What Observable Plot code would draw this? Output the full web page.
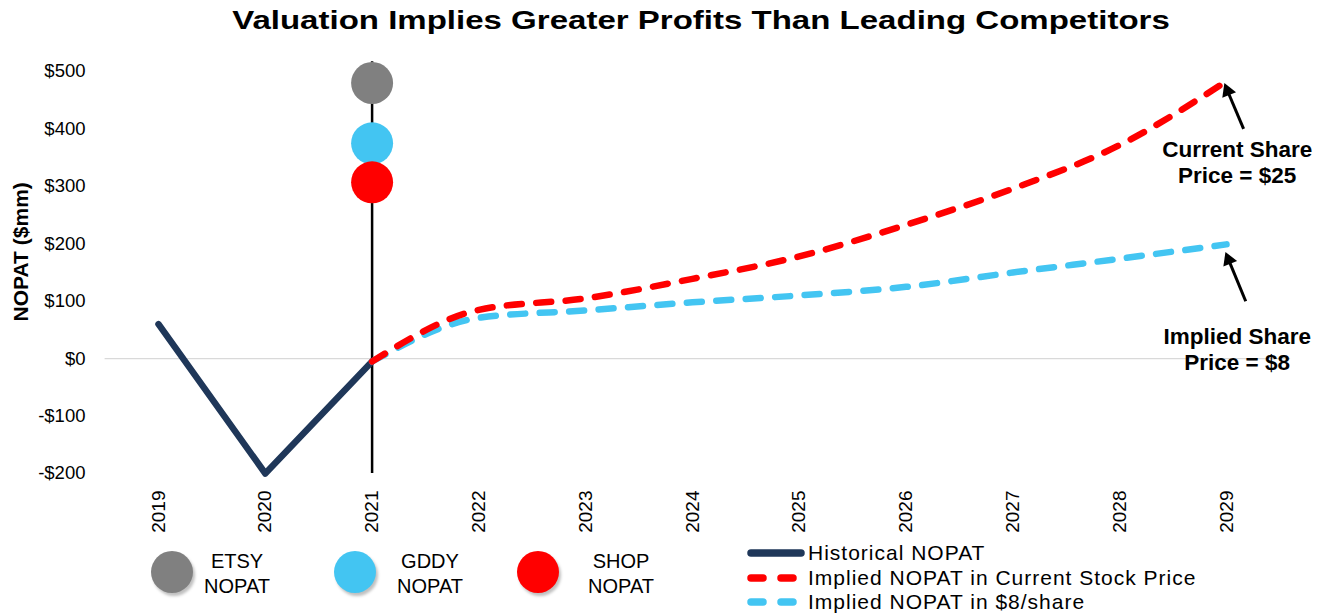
<!DOCTYPE html>
<html>
<head>
<meta charset="utf-8">
<script src="https://cdn.jsdelivr.net/npm/d3@7"></script>
<script src="https://cdn.jsdelivr.net/npm/@observablehq/plot@0.6"></script>
<style>
  html, body { margin: 0; padding: 0; background: #fff; }
  body { width: 1327px; height: 616px; position: relative; overflow: hidden; font-family: "Liberation Sans", Arial, sans-serif; }
  #title { position: absolute; left: 0; top: 5px; width: 1402px; text-align: center; font-weight: bold; font-size: 26px; line-height: 30px; color: #000; transform: scaleX(1.27); transform-origin: 701px 0; }
  #chart { position: absolute; left: 0; top: 48px; }
  .dotleg { position: absolute; width: 42px; height: 42px; border-radius: 50%; box-shadow: 2px 3px 3px rgba(0,0,0,0.25); }
  .dottxt { position: absolute; font-size: 20px; text-align: center; line-height: 25px; width: 120px; }
  .lineleg { position: absolute; font-size: 21px; letter-spacing: 1px; line-height: 22px; display: flex; align-items: center; white-space: nowrap; }
  .lineleg svg { margin-right: 1px; }
  circle.peer { filter: drop-shadow(2px 3px 2px rgba(0,0,0,0.28)); }
</style>
</head>
<body>
<div id="title">Valuation Implies Greater Profits Than Leading Competitors</div>
<div id="chart"></div>
<div id="legend"></div>
<script>
// ---- data ----
const years = [2019, 2020, 2021, 2022, 2023, 2024, 2025, 2026, 2027, 2028, 2029];
const historicalYears = [2019, 2020, 2021];
const historicalNopat = [60, -200, -5];
const projYears = [2021, 2022, 2023, 2024, 2025, 2026, 2027, 2028, 2029];
const impliedCurrent = [-5, 85, 105, 139, 178, 233, 296, 372, 483];
const impliedEight = [-5, 71, 84, 98, 110, 125, 150, 174, 199];
const peers = ["ETSY", "GDDY", "SHOP"];
const peerNopat = [480, 375, 307];
const peerColors = ["#808080", "#43C5F2", "#FF0000"];
const yTicks = [-200, -100, 0, 100, 200, 300, 400, 500];
const annotations = ["Current Share\nPrice = $25", "Implied Share\nPrice = $8"];
const annotationY = [343, 17];
const arrowFrom = [[2029.16, 400], [2029.18, 100]];
const arrowTo = [[2029.01, 466], [2029.02, 172]];

const hist = historicalYears.map((y, i) => ({year: y, v: historicalNopat[i]}));
const cur = projYears.map((y, i) => ({year: y, v: impliedCurrent[i]}));
const eight = projYears.map((y, i) => ({year: y, v: impliedEight[i]}));
const peerData = peers.map((p, i) => ({name: p, year: 2021, v: peerNopat[i], color: peerColors[i]}));
const annData = annotations.map((t, i) => ({t, y: annotationY[i]}));
const arrows = arrowFrom.map((a, i) => ({x1: a[0], y1: a[1], x2: arrowTo[i][0], y2: arrowTo[i][1]}));

const fmt = d => (d < 0 ? "-$" + Math.abs(d) : "$" + d);

const chart = Plot.plot({
  width: 1327,
  height: 490,
  marginLeft: 158,
  marginRight: 101,
  marginTop: 23,
  marginBottom: 65,
  style: {fontFamily: "'Liberation Sans', Arial, sans-serif", background: "#fff", overflow: "visible"},
  x: {domain: [2019, 2029]},
  y: {domain: [-200, 500]},
  marks: [
    Plot.ruleY([0], {x1: 2018.5, x2: 2029.6, stroke: "#d9d9d9", strokeWidth: 1.2}),
    Plot.axisY(yTicks, {tickSize: 0, tickPadding: 73, tickFormat: fmt, fontSize: 18.5, label: null, fill: "#000"}),
    Plot.axisX(years, {tickSize: 0, tickPadding: 17, tickRotate: -90, tickFormat: d => String(d), fontSize: 19, label: null, fill: "#000"}),
    Plot.text(["NOPAT ($mm)"], {x: 2017.717, y: 186, rotate: -90, fontWeight: "bold", fontSize: 21, fill: "#000"}),
    Plot.ruleX([2021], {y1: -200, y2: 517, stroke: "#000", strokeWidth: 2.5}),
    Plot.line(hist, {x: "year", y: "v", stroke: "#1F3759", strokeWidth: 6.5, strokeLinecap: "round", strokeLinejoin: "round"}),
    Plot.line(eight, {x: "year", y: "v", stroke: "#43C5F2", strokeWidth: 6.5, strokeDasharray: "15 14.5", strokeLinecap: "round", curve: "monotone-x"}),
    Plot.line(cur, {x: "year", y: "v", stroke: "#FF0000", strokeWidth: 6.5, strokeDasharray: "15 14.5", strokeLinecap: "round", curve: "monotone-x"}),
    Plot.dot(peerData, {x: "year", y: "v", r: 21, fill: "color", className: "peer"}),
    Plot.link(arrows, {x1: "x1", y1: "y1", x2: "x2", y2: "y2", stroke: "#000", strokeWidth: 3}),
    Plot.dot(arrows, {x: "x2", y: "y2", symbol: "triangle", r: 5.5, fill: "#000", rotate: -22}),
    Plot.text(annData, {x: 2029.10, y: "y", text: "t", fontWeight: "bold", fontSize: 22.5, lineHeight: 1.16, fill: "#000"})
  ]
});
document.getElementById("chart").appendChild(chart);

// ---- legend ----
const legend = document.getElementById("legend");
const dotX = [151, 334, 517];
const txtX = [237, 430, 621];
peers.forEach((p, i) => {
  const d = document.createElement("div");
  d.className = "dotleg";
  d.style.left = dotX[i] + "px"; d.style.top = "551px"; d.style.background = peerColors[i];
  legend.appendChild(d);
  const t = document.createElement("div");
  t.className = "dottxt";
  t.style.left = (txtX[i] - 60) + "px"; t.style.top = "549px";
  t.innerHTML = p + "<br>NOPAT";
  legend.appendChild(t);
});
const lineItems = [
  {label: "Historical NOPAT", color: "#1F3759", dash: null},
  {label: "Implied NOPAT in Current Stock Price", color: "#FF0000", dash: "12 18"},
  {label: "Implied NOPAT in $8/share", color: "#43C5F2", dash: "12 18"}
];
lineItems.forEach((it, i) => {
  const d = document.createElement("div");
  d.className = "lineleg";
  d.style.left = "743px"; d.style.top = (542 + i * 24.5) + "px";
  d.innerHTML = `<svg width="64" height="20"><line x1="8" y1="10" x2="58" y2="10" stroke="${it.color}" stroke-width="7.5" stroke-linecap="round" ${it.dash ? `stroke-dasharray="${it.dash}"` : ""}/></svg><span>${it.label}</span>`;
  legend.appendChild(d);
});
</script>
</body>
</html>
